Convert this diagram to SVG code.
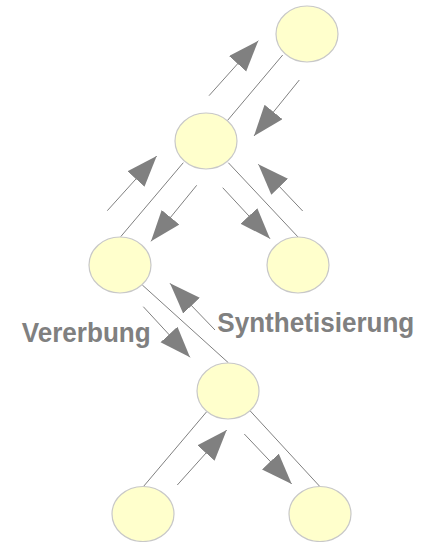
<svg xmlns="http://www.w3.org/2000/svg" width="427" height="542" viewBox="0 0 427 542">
<style>
.node{fill:#ffffcc;stroke:#c8c8c8;stroke-width:1.2}
.edge{stroke:#808080;stroke-width:1;fill:none}
.arr{stroke:#808080;stroke-width:1;fill:none;marker-end:url(#head)}
.lbl{font-family:"Liberation Sans",Arial,sans-serif;font-weight:bold;font-size:27px;fill:#808080}
</style>
<defs>
<marker id="head" markerUnits="userSpaceOnUse" markerWidth="34" markerHeight="26" refX="31" refY="11.5" orient="auto">
<path d="M0,0 L31,11.5 L0,23 z" fill="#808080"/>
</marker>
</defs>
<g id="connectors">
<line class="edge" x1="282.7" y1="55" x2="227.3" y2="120.7"/>
<line class="edge" x1="183.3" y1="162.7" x2="120.7" y2="236.7"/>
<line class="edge" x1="228.3" y1="162.7" x2="298.3" y2="237.3"/>
<line class="edge" x1="142.3" y1="285" x2="228.3" y2="362.7"/>
<line class="edge" x1="206.7" y1="411.7" x2="143.3" y2="486.7"/>
<line class="edge" x1="250" y1="410.7" x2="320" y2="486.7"/>
<line class="arr" x1="209" y1="95.7" x2="258.3" y2="40.7"/>
<line class="arr" x1="299.3" y1="80" x2="254" y2="136"/>
<line class="arr" x1="107.3" y1="210.7" x2="156.7" y2="156"/>
<line class="arr" x1="196.7" y1="185.3" x2="151" y2="241.3"/>
<line class="arr" x1="222.7" y1="187.7" x2="270" y2="238.7"/>
<line class="arr" x1="302.7" y1="211" x2="258.3" y2="164.3"/>
<line class="arr" x1="215" y1="330" x2="170" y2="283.3"/>
<line class="arr" x1="143.3" y1="306.7" x2="190" y2="357.3"/>
<line class="arr" x1="177.3" y1="485" x2="226.7" y2="430"/>
<line class="arr" x1="244.3" y1="434" x2="291.7" y2="484"/>
</g>
<g id="n-top"><ellipse class="node" cx="307" cy="34" rx="31" ry="28"/></g>
<g id="n-mid"><ellipse class="node" cx="206" cy="141" rx="31" ry="28"/></g>
<g id="n-left"><ellipse class="node" cx="120" cy="265" rx="31" ry="28"/></g>
<g id="n-right"><ellipse class="node" cx="298" cy="265" rx="31" ry="28"/></g>
<g id="n-low"><ellipse class="node" cx="228" cy="391" rx="31" ry="28"/></g>
<g id="n-bl"><ellipse class="node" cx="143" cy="514" rx="31" ry="27.5"/></g>
<g id="n-br"><ellipse class="node" cx="320" cy="514" rx="31" ry="27.5"/></g>
<g id="labels">
<text class="lbl" x="21.7" y="342" textLength="129" lengthAdjust="spacingAndGlyphs">Vererbung</text>
<text class="lbl" x="217.3" y="332" textLength="197" lengthAdjust="spacingAndGlyphs">Synthetisierung</text>
</g>
</svg>
